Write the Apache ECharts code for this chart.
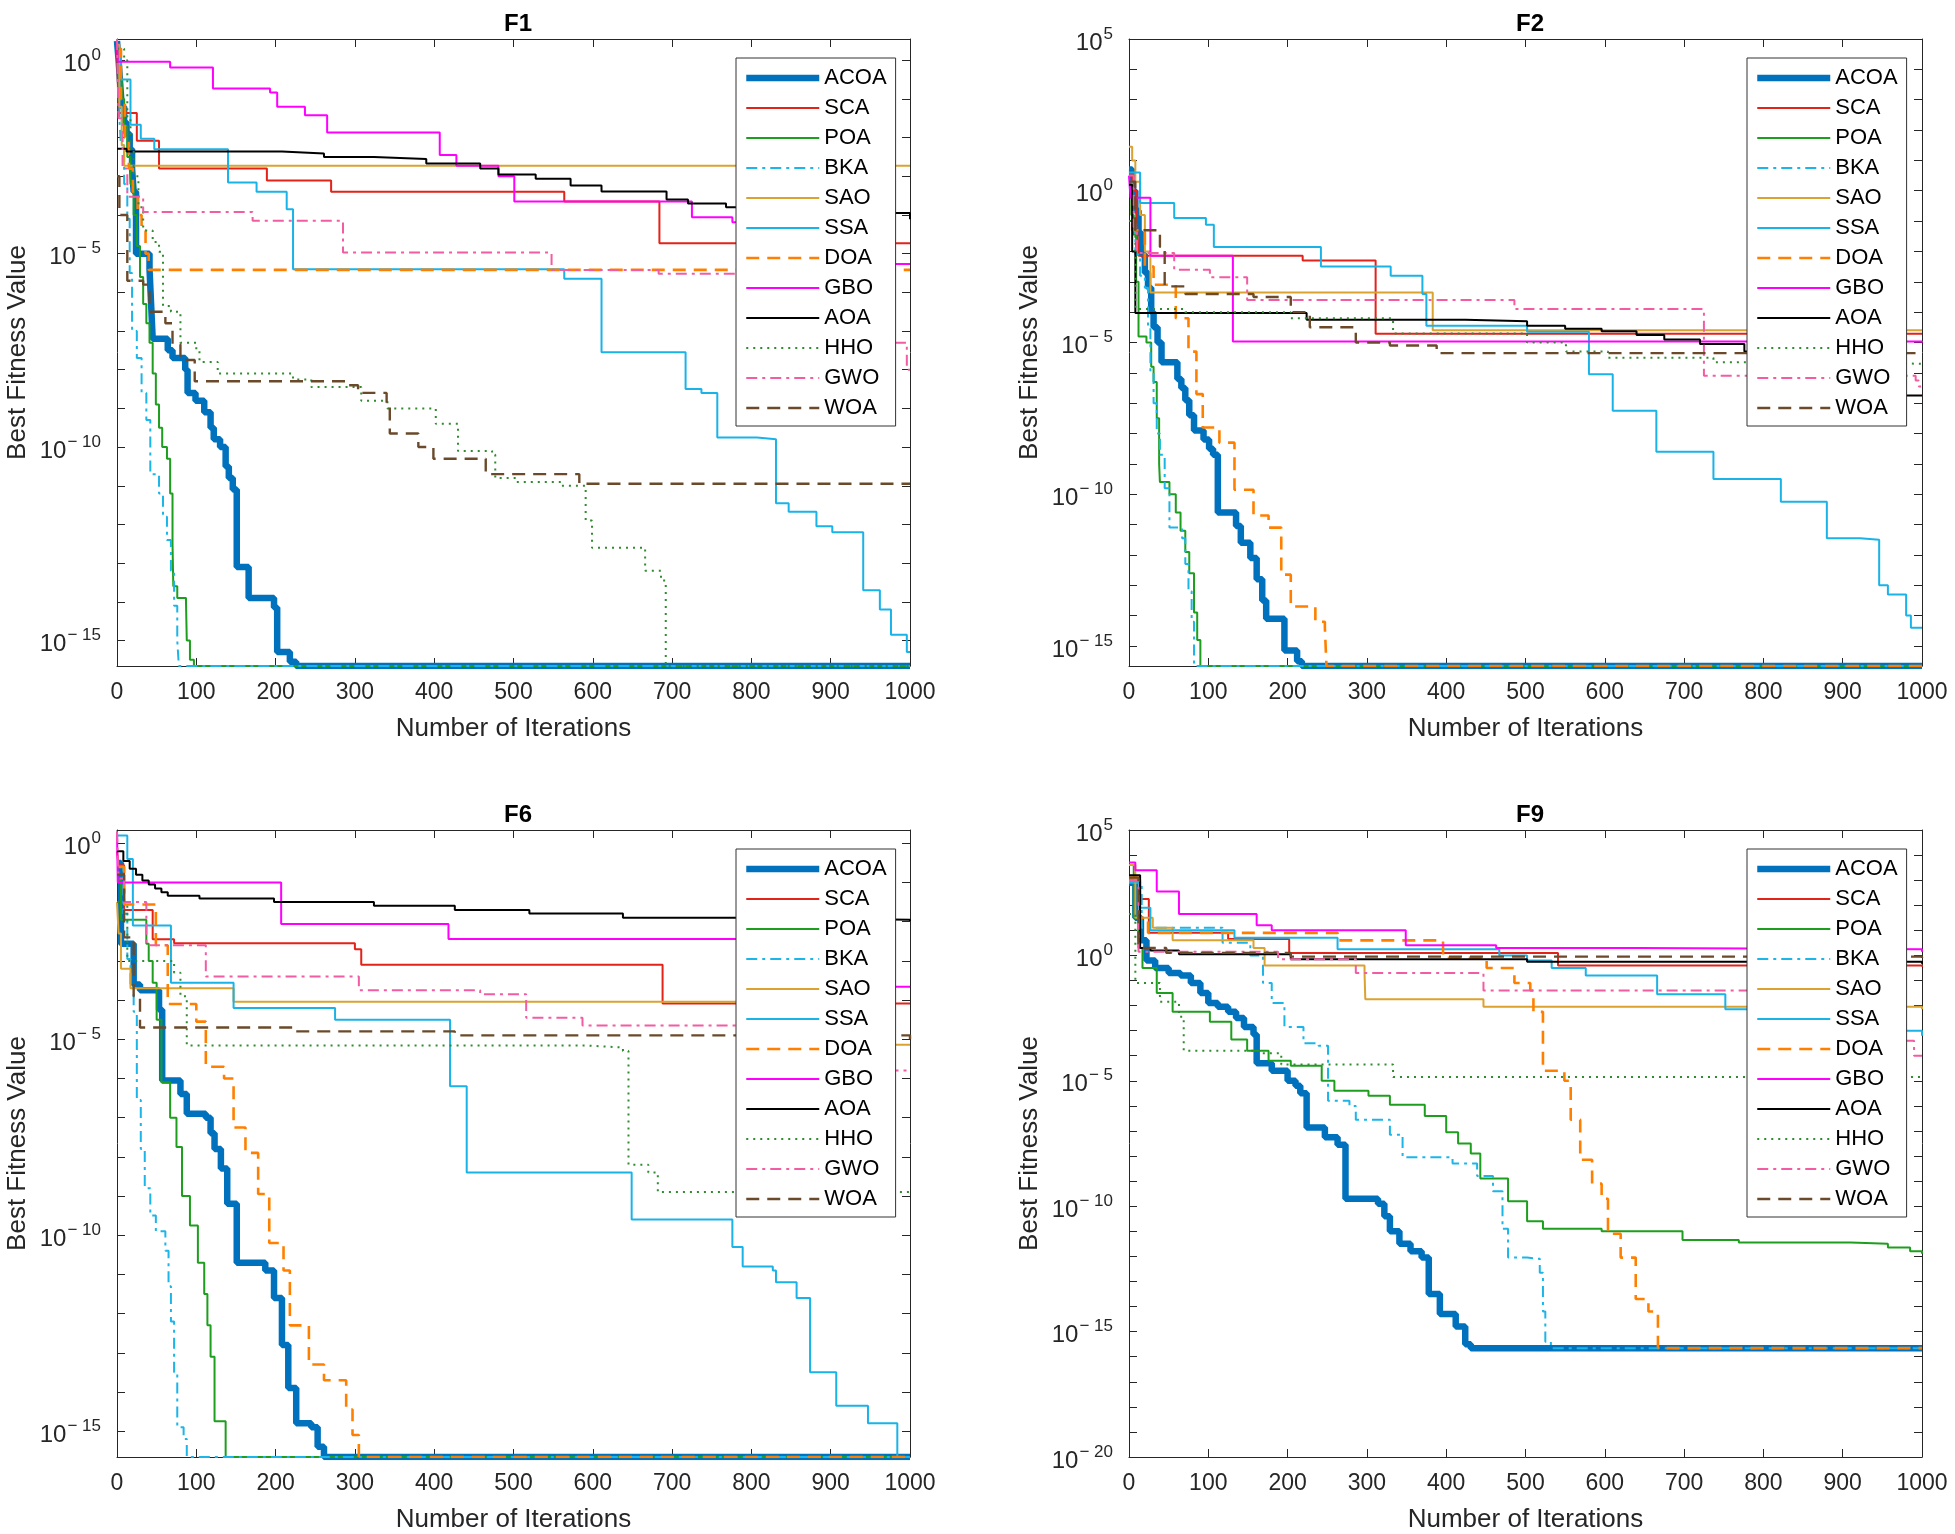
<!DOCTYPE html>
<html>
<head>
<meta charset="utf-8">
<script src="https://cdn.jsdelivr.net/npm/echarts@6/dist/echarts.min.js"></script>
<style>
  html, body { margin: 0; padding: 0; background: #fff; }
  #main { width: 1955px; height: 1534px; }
</style>
</head>
<body>
<div id="main"></div>
<script>
// 算法名称
const algos = ['ACOA', 'SCA', 'POA', 'BKA', 'SAO', 'SSA', 'DOA', 'GBO', 'AOA', 'HHO', 'GWO', 'WOA'];
const titles = ['F1', 'F2', 'F6', 'F9'];

// 收敛曲线：[迭代次数, log10(最优适应度)]，阶梯断点
const F1_ACOA = [[0,0.5],[2,0.0],[4,-0.6],[6,-1.2],[9,-1.6],[12,-1.9],[16,-2.3],[19,-2.8],[21,-3.4],[24,-5.0],[41,-5.4],[43,-6.3],[45,-7.2],[64,-7.5],[70,-7.7],[86,-8.0],[89,-8.6],[99,-8.8],[110,-9.1],[118,-9.5],[122,-9.8],[130,-10.0],[137,-10.5],[141,-10.8],[146,-11.1],[151,-13.1],[166,-13.9],[198,-14.15],[202,-15.3],[218,-15.55],[226,-15.66],[1000,-15.66]];
const F1_SCA = [[0,0.3],[2,-1.36],[25,-2.08],[53,-2.8],[189,-3.11],[270,-3.4],[564,-3.65],[684,-4.73],[1000,-4.73]];
const F1_POA = [[0,0.3],[3,-0.5],[6,-1.0],[9,-1.7],[13,-2.5],[17,-3.2],[21,-4.0],[25,-4.8],[29,-5.6],[33,-6.3],[37,-6.8],[41,-7.3],[45,-8.1],[49,-8.9],[53,-9.5],[57,-10.0],[63,-10.3],[67,-11.2],[70,-12.5],[71,-13.6],[76,-13.9],[87,-14.0],[88,-15.0],[92,-15.5],[97,-15.66],[1000,-15.66]];
const F1_BKA = [[0,0.0],[3,-1.5],[5,-2.2],[9,-3.2],[13,-4.1],[16,-5.5],[19,-7.0],[25,-7.7],[31,-8.6],[37,-9.3],[42,-10.7],[53,-11.2],[58,-11.8],[63,-12.4],[68,-13.2],[72,-14.1],[76,-15.0],[78,-15.66],[1000,-15.66]];
const F1_SAO = [[0,0.4],[3,-1.2],[6,-2.2],[9,-2.73],[1000,-2.73]];
const F1_SSA = [[0,0.3],[5,-0.5],[17,-1.67],[30,-2.03],[47,-2.3],[140,-3.16],[176,-3.4],[214,-3.85],[222,-5.4],[564,-5.65],[611,-7.55],[717,-8.5],[737,-8.6],[757,-9.75],[807,-9.8],[831,-11.45],[847,-11.67],[882,-12.05],[902,-12.2],[941,-13.7],[962,-14.2],[976,-14.85],[996,-15.3],[1000,-15.3]];
const F1_DOA = [[0,0.3],[5,-1.0],[10,-2.0],[15,-2.8],[20,-3.5],[26,-4.0],[31,-4.4],[36,-5.0],[40,-5.42],[1000,-5.42]];
const F1_GBO = [[0,0.5],[1,-0.04],[67,-0.19],[121,-0.73],[193,-0.83],[202,-1.2],[237,-1.42],[265,-1.87],[407,-2.45],[428,-2.73],[481,-3.0],[501,-3.65],[725,-4.06],[776,-4.19],[900,-4.6],[950,-5.27],[1000,-5.27]];
const F1_AOA = [[0,-2.29],[12,-2.36],[208,-2.41],[261,-2.5],[324,-2.55],[390,-2.67],[458,-2.8],[481,-2.95],[528,-3.06],[572,-3.24],[611,-3.39],[693,-3.6],[720,-3.7],[768,-3.8],[850,-3.95],[1000,-4.11]];
const F1_HHO = [[0,0.3],[9,0.0],[13,-1.5],[17,-2.3],[21,-3.0],[27,-3.8],[33,-4.4],[45,-4.7],[53,-4.95],[58,-6.35],[68,-6.5],[80,-7.3],[100,-7.5],[104,-7.8],[127,-8.1],[222,-8.25],[245,-8.45],[308,-8.8],[341,-9.0],[402,-9.4],[430,-10.1],[473,-10.2],[477,-10.8],[503,-10.9],[560,-11.0],[591,-11.9],[599,-12.6],[666,-13.2],[686,-13.45],[692,-15.66],[1000,-15.66]];
const F1_GWO = [[0,0.55],[2,-1.5],[7,-2.8],[13,-3.53],[33,-3.92],[171,-4.15],[285,-4.97],[548,-5.42],[683,-5.52],[977,-7.3],[996,-8.0],[1000,-8.0]];
const F1_WOA = [[0,-3.0],[3,-4.0],[13,-5.7],[33,-5.8],[41,-6.5],[61,-6.8],[70,-7.35],[80,-7.75],[98,-8.3],[292,-8.4],[304,-8.6],[340,-8.9],[344,-9.65],[380,-10.0],[399,-10.3],[465,-10.7],[583,-10.95],[1000,-10.95]];

const F2_ACOA = [[0,0.7],[4,0.0],[8,-0.65],[12,-1.4],[16,-2.1],[20,-2.7],[24,-3.2],[28,-4.0],[31,-4.5],[36,-5.0],[41,-5.65],[61,-6.2],[66,-6.5],[71,-6.9],[76,-7.4],[82,-7.9],[94,-8.2],[101,-8.5],[106,-8.7],[112,-10.6],[135,-11.05],[141,-11.6],[153,-12.1],[161,-12.8],[168,-13.5],[173,-14.1],[196,-15.15],[212,-15.5],[218,-15.66],[1000,-15.66]];
const F2_SCA = [[0,0.5],[5,0.0],[10,-1.0],[12,-2.14],[219,-2.3],[311,-4.71],[1000,-4.71]];
const F2_POA = [[0,0.3],[3,-0.8],[6,-1.45],[9,-3.0],[12,-4.8],[22,-5.0],[28,-5.8],[31,-6.3],[35,-7.5],[38,-9.0],[39,-9.6],[51,-10.0],[59,-10.6],[65,-11.2],[71,-11.9],[76,-12.6],[82,-13.9],[86,-14.8],[90,-15.66],[1000,-15.66]];
const F2_BKA = [[0,0.3],[4,-1.0],[8,-2.1],[14,-2.8],[20,-3.2],[24,-4.5],[27,-6.0],[31,-7.0],[35,-8.0],[39,-8.7],[45,-9.8],[51,-11.1],[67,-11.45],[71,-12.3],[75,-13.2],[79,-14.2],[82,-15.66],[1000,-15.66]];
const F2_SAO = [[0,1.45],[4,1.0],[8,0.3],[14,-0.8],[20,-2.0],[27,-3.35],[361,-3.35],[383,-4.6],[1000,-4.6]];
const F2_SSA = [[0,0.6],[14,-0.4],[57,-0.9],[97,-1.12],[107,-1.85],[242,-2.5],[330,-2.8],[370,-3.4],[375,-4.45],[502,-4.65],[580,-6.05],[610,-7.25],[665,-8.6],[737,-9.5],[822,-10.25],[880,-11.45],[922,-11.5],[946,-13.0],[957,-13.3],[980,-14.0],[986,-14.4],[1000,-14.4]];
const F2_DOA = [[0,0.2],[4,-1.3],[20,-2.5],[31,-3.1],[59,-4.2],[75,-5.3],[85,-6.7],[93,-7.8],[114,-8.3],[133,-9.85],[157,-10.7],[176,-11.1],[192,-12.65],[204,-13.7],[235,-14.2],[247,-14.4],[249,-15.66],[1000,-15.66]];
const F2_GBO = [[0,0.5],[2,-0.23],[27,-2.14],[131,-4.97],[1000,-5.0]];
const F2_AOA = [[0,0.2],[4,-2.0],[8,-4.03],[224,-4.25],[424,-4.3],[502,-4.45],[550,-4.55],[596,-4.63],[640,-4.75],[675,-4.9],[720,-5.05],[776,-5.3],[830,-5.8],[880,-6.75],[1000,-6.75]];
const F2_HHO = [[0,-1.0],[8,-3.9],[71,-4.0],[204,-4.2],[333,-4.7],[502,-5.0],[551,-5.3],[604,-5.5],[737,-5.65],[850,-5.7],[1000,-5.73]];
const F2_GWO = [[0,0.5],[6,-1.2],[10,-2.05],[57,-2.6],[102,-2.85],[149,-3.6],[486,-3.9],[725,-6.1],[992,-6.25],[996,-6.45],[1000,-6.45]];
const F2_WOA = [[0,0.3],[8,-1.3],[39,-1.85],[45,-3.15],[71,-3.4],[157,-3.5],[204,-4.0],[228,-4.5],[286,-5.0],[329,-5.1],[388,-5.35],[1000,-5.35]];

const F6_ACOA = [[0,-0.5],[5,-2.56],[21,-3.6],[29,-3.75],[53,-4.25],[57,-6.05],[80,-6.4],[88,-6.9],[112,-7.0],[118,-7.4],[123,-7.8],[131,-8.3],[139,-9.2],[151,-10.7],[187,-10.9],[198,-11.6],[208,-12.8],[216,-13.9],[226,-14.8],[245,-14.9],[253,-15.4],[261,-15.66],[1000,-15.66]];
const F6_SCA = [[0,-0.2],[2,-0.56],[9,-1.7],[45,-2.45],[72,-2.55],[300,-2.7],[308,-3.1],[688,-4.09],[1000,-4.09]];
const F6_POA = [[0,-0.94],[5,-1.95],[37,-2.56],[40,-3.0],[45,-3.56],[50,-4.5],[56,-6.1],[67,-7.0],[75,-7.75],[82,-9.0],[92,-9.75],[102,-10.7],[110,-11.5],[114,-12.3],[118,-13.1],[123,-14.75],[137,-15.66],[1000,-15.66]];
const F6_BKA = [[0,-0.6],[8,-1.8],[13,-2.95],[17,-3.6],[21,-4.3],[25,-6.55],[30,-7.8],[35,-8.8],[42,-9.5],[49,-9.9],[61,-10.4],[65,-11.3],[68,-12.2],[72,-13.5],[76,-14.9],[84,-15.2],[88,-15.66],[1000,-15.66]];
const F6_SAO = [[0,-1.5],[2,-2.3],[5,-3.2],[17,-3.7],[147,-4.04],[850,-5.14],[1000,-5.14]];
const F6_SSA = [[0,0.2],[13,-0.4],[20,-2.1],[68,-3.56],[147,-4.2],[275,-4.5],[420,-6.2],[441,-8.4],[649,-9.6],[776,-10.3],[789,-10.8],[827,-10.9],[831,-11.2],[857,-11.6],[874,-13.5],[907,-14.35],[947,-14.8],[984,-15.66],[1000,-15.66]];
const F6_DOA = [[0,-0.6],[9,-1.56],[49,-2.6],[64,-4.1],[100,-4.55],[112,-5.7],[135,-6.0],[147,-7.25],[162,-7.9],[178,-8.95],[192,-10.2],[210,-10.9],[218,-12.3],[242,-13.3],[261,-13.7],[289,-14.45],[297,-15.1],[305,-15.66],[1000,-15.66]];
const F6_GBO = [[0,0.3],[1,-1.0],[207,-2.06],[418,-2.44],[850,-3.66],[1000,-3.66]];
const F6_AOA = [[0,-0.2],[8,-0.45],[16,-0.65],[24,-0.8],[32,-0.95],[40,-1.05],[48,-1.15],[56,-1.25],[64,-1.34],[104,-1.41],[198,-1.5],[324,-1.59],[426,-1.7],[520,-1.79],[638,-1.9],[800,-1.95],[1000,-1.98]];
const F6_HHO = [[0,-1.5],[13,-3.0],[72,-3.3],[80,-3.9],[88,-5.16],[591,-5.21],[638,-5.3],[645,-8.2],[670,-8.4],[682,-8.9],[1000,-8.95]];
const F6_GWO = [[0,0.3],[2,-0.9],[9,-1.5],[37,-2.6],[112,-3.4],[305,-3.75],[458,-3.85],[516,-4.45],[587,-4.65],[800,-4.8],[900,-5.8],[1000,-5.8]];
const F6_WOA = [[0,-0.8],[9,-2.4],[21,-3.9],[29,-4.7],[222,-4.8],[426,-4.9],[1000,-5.0]];

const F9_ACOA = [[0,2.9],[8,1.5],[15,0.6],[22,-0.2],[33,-0.5],[50,-0.7],[65,-0.8],[78,-1.1],[90,-1.5],[100,-1.9],[112,-2.05],[125,-2.25],[135,-2.5],[145,-2.85],[157,-3.15],[161,-4.3],[180,-4.6],[200,-5.0],[210,-5.2],[216,-5.5],[224,-6.86],[247,-7.25],[263,-7.55],[273,-9.7],[314,-9.9],[322,-10.4],[329,-11.0],[341,-11.5],[355,-11.8],[369,-12.05],[378,-13.5],[392,-14.3],[412,-14.8],[424,-15.5],[431,-15.66],[1000,-15.66]];
const F9_SCA = [[0,3.0],[14,2.25],[25,0.9],[125,0.65],[202,0.1],[541,-0.4],[1000,-0.45]];
const F9_POA = [[0,3.6],[6,1.5],[12,0.3],[17,-0.5],[35,-1.5],[55,-2.25],[102,-2.65],[129,-3.35],[149,-3.8],[176,-4.2],[204,-4.4],[243,-5.0],[259,-5.4],[302,-5.6],[329,-5.95],[373,-6.4],[400,-7.05],[415,-7.5],[431,-7.9],[443,-8.9],[478,-9.8],[502,-10.6],[522,-10.9],[596,-11.0],[698,-11.35],[769,-11.45],[910,-11.5],[957,-11.65],[985,-11.8],[1000,-11.9]];
const F9_BKA = [[0,2.9],[16,1.1],[118,0.5],[153,0.0],[169,-1.1],[180,-1.9],[196,-2.85],[220,-3.5],[239,-3.6],[251,-5.8],[278,-6.0],[286,-6.55],[329,-7.15],[345,-8.05],[408,-8.3],[439,-8.8],[459,-9.4],[471,-10.9],[478,-12.05],[502,-12.1],[518,-12.65],[522,-14.2],[525,-15.4],[532,-15.66],[1000,-15.66]];
const F9_SAO = [[0,3.6],[8,1.5],[30,1.1],[55,0.6],[157,0.3],[171,-0.4],[297,-0.7],[298,-1.75],[447,-2.05],[1000,-2.15]];
const F9_SSA = [[0,2.95],[14,1.9],[27,1.0],[133,0.7],[263,0.25],[467,0.0],[502,-0.2],[533,-0.5],[576,-0.8],[666,-1.55],[752,-2.15],[792,-2.65],[900,-3.0],[1000,-3.2]];
const F9_DOA = [[0,3.1],[12,1.5],[24,0.9],[263,0.6],[396,-0.1],[451,-0.5],[486,-1.1],[506,-1.4],[510,-2.25],[522,-4.6],[549,-5.0],[557,-6.55],[569,-8.15],[584,-9.1],[596,-9.7],[604,-11.1],[620,-12.05],[639,-13.7],[655,-14.2],[667,-15.66],[1000,-15.66]];
const F9_GBO = [[0,3.7],[8,3.4],[35,2.55],[63,1.65],[161,1.2],[180,1.0],[349,0.4],[463,0.3],[643,0.25],[1000,0.15]];
const F9_AOA = [[0,3.2],[14,0.3],[27,0.2],[63,0.05],[204,-0.15],[502,-0.25],[1000,-0.33]];
const F9_HHO = [[0,1.65],[8,-1.1],[39,-1.85],[63,-2.45],[69,-3.8],[165,-3.9],[192,-4.35],[333,-4.85],[1000,-4.95]];
const F9_GWO = [[0,3.0],[12,0.15],[188,-0.15],[286,-0.7],[447,-1.4],[850,-1.4],[900,-3.4],[990,-4.0],[1000,-4.0]];
const F9_WOA = [[0,3.1],[12,0.3],[47,0.1],[204,-0.05],[1000,-0.1]];

// 纵轴范围（log10）
const yMin = [-15.66, -15.66, -15.66, -20];
const yMax = [0.55, 5, 0.34, 5];

const panelData = [
  [F1_ACOA, F1_SCA, F1_POA, F1_BKA, F1_SAO, F1_SSA, F1_DOA, F1_GBO, F1_AOA, F1_HHO, F1_GWO, F1_WOA],
  [F2_ACOA, F2_SCA, F2_POA, F2_BKA, F2_SAO, F2_SSA, F2_DOA, F2_GBO, F2_AOA, F2_HHO, F2_GWO, F2_WOA],
  [F6_ACOA, F6_SCA, F6_POA, F6_BKA, F6_SAO, F6_SSA, F6_DOA, F6_GBO, F6_AOA, F6_HHO, F6_GWO, F6_WOA],
  [F9_ACOA, F9_SCA, F9_POA, F9_BKA, F9_SAO, F9_SSA, F9_DOA, F9_GBO, F9_AOA, F9_HHO, F9_GWO, F9_WOA]
];

const FONT = "'Liberation Sans', Arial, Helvetica, sans-serif";
const AX = '#262626';
const styles = {
  ACOA: { color: '#0072BD', width: 6.5, type: 'solid' },
  SCA: { color: '#E2231A', width: 2, type: 'solid' },
  POA: { color: '#1E9E1E', width: 2, type: 'solid' },
  BKA: { color: '#1BB5E8', width: 2, type: [11, 5, 3, 5] },
  SAO: { color: '#DAA231', width: 2, type: 'solid' },
  SSA: { color: '#1AB3E8', width: 2, type: 'solid' },
  DOA: { color: '#FF8000', width: 2.6, type: [13, 8] },
  GBO: { color: '#FF00FF', width: 2, type: 'solid' },
  AOA: { color: '#000000', width: 2, type: 'solid' },
  HHO: { color: '#2E8B2E', width: 2, type: [2, 5] },
  GWO: { color: '#F25CA2', width: 2, type: [11, 5, 3, 5] },
  WOA: { color: '#6B4A2B', width: 2.4, type: [13, 8] }
};

const grids = [
  { left: 117, top: 39, width: 793, height: 627 },
  { left: 1129, top: 39, width: 793, height: 627 },
  { left: 117, top: 830, width: 793, height: 627 },
  { left: 1129, top: 830, width: 793, height: 627 }
];
const legendPos = [[736, 58], [1747, 58], [736, 849], [1747, 849]];
const titlePos = [[513, 7], [1525, 7], [513, 798], [1525, 798]];

function range(a, b, step) {
  const out = [];
  for (let v = a; v <= b; v += step) out.push(v);
  return out;
}
function supText(v) {
  if (v === 0) return '0';
  return v < 0 ? '\u2212 ' + (-v) : String(v);
}

const xAxis = [], yAxis = [], series = [], legend = [], title = [];
grids.forEach(function (g, i) {
  const lo = Math.ceil(yMin[i]), hi = Math.floor(yMax[i]);
  const decades = range(lo, hi, 1);
  const labels = decades.filter(function (v) { return v % 5 === 0; });
  const baseX = {
    type: 'value', gridIndex: i, min: 0, max: 1000, interval: 100,
    axisLine: { show: true, onZero: false, lineStyle: { color: AX, width: 1 } },
    axisTick: { show: true, inside: true, length: 8, lineStyle: { color: AX } },
    splitLine: { show: false }
  };
  xAxis.push(Object.assign({}, baseX, {
    position: 'bottom',
    name: 'Number of Iterations', nameLocation: 'middle', nameGap: 50,
    nameTextStyle: { fontSize: 26, color: AX, fontFamily: FONT },
    axisLabel: {
      show: true, fontSize: 23, color: AX, fontFamily: FONT, margin: 15,
      showMinLabel: true, showMaxLabel: true,
      formatter: function (v) { return String(v); }
    }
  }));
  xAxis.push(Object.assign({}, baseX, { position: 'top', axisLabel: { show: false } }));

  const baseY = {
    type: 'value', gridIndex: i, min: yMin[i], max: yMax[i],
    axisLine: { show: true, onZero: false, lineStyle: { color: AX, width: 1 } },
    axisTick: { show: true, inside: true, length: 8, lineStyle: { color: AX }, customValues: decades },
    splitLine: { show: false }
  };
  yAxis.push(Object.assign({}, baseY, {
    position: 'left',
    name: 'Best Fitness Value', nameLocation: 'middle', nameGap: 86,
    nameTextStyle: { fontSize: 26, color: AX, fontFamily: FONT },
    axisLabel: {
      show: true, margin: 16, customValues: labels,
      formatter: function (v) { return '{b|10}{s|' + supText(Math.round(v)) + '}'; },
      rich: {
        b: { fontSize: 24, color: AX, fontFamily: FONT, padding: [8, 0, 0, 0] },
        s: { fontSize: 17, color: AX, fontFamily: FONT, padding: [0, 0, 10, 1] }
      }
    }
  }));
  yAxis.push(Object.assign({}, baseY, { position: 'right', axisLabel: { show: false } }));

  panelData[i].forEach(function (data, j) {
    const name = algos[j];
    const st = styles[name];
    series.push({
      name: name, type: 'line', xAxisIndex: 2 * i, yAxisIndex: 2 * i,
      data: data, step: 'end', symbol: 'none', showSymbol: false, silent: true,
      lineStyle: { color: st.color, width: st.width, type: st.type },
      itemStyle: { color: st.color }
    });
  });

  legend.push({
    orient: 'vertical', left: legendPos[i][0], top: legendPos[i][1],
    itemWidth: 73, itemHeight: 14, itemGap: 8, padding: [9, 9, 7, 7],
    borderColor: '#333', borderWidth: 1, backgroundColor: '#fff',
    selectedMode: false,
    itemStyle: { opacity: 0 },
    lineStyle: { width: 'inherit' },
    data: algos.map(function (n) {
      return { name: n, itemStyle: { opacity: 0 }, lineStyle: { width: styles[n].width, type: styles[n].type, color: styles[n].color } };
    }),
    textStyle: { fontSize: 22, color: '#000', fontFamily: FONT }
  });

  title.push({
    text: titles[i], left: titlePos[i][0], top: titlePos[i][1], textAlign: 'center',
    textStyle: { fontSize: 24, fontWeight: 'bold', color: '#000', fontFamily: FONT }
  });
});

const chart = echarts.init(document.getElementById('main'));
chart.setOption({
  backgroundColor: '#fff',
  animation: false,
  title: title,
  grid: grids.map(function (g) { return Object.assign({ containLabel: false, outerBoundsMode: 'none' }, g); }),
  xAxis: xAxis,
  yAxis: yAxis,
  legend: legend,
  series: series
});
</script>
</body>
</html>
